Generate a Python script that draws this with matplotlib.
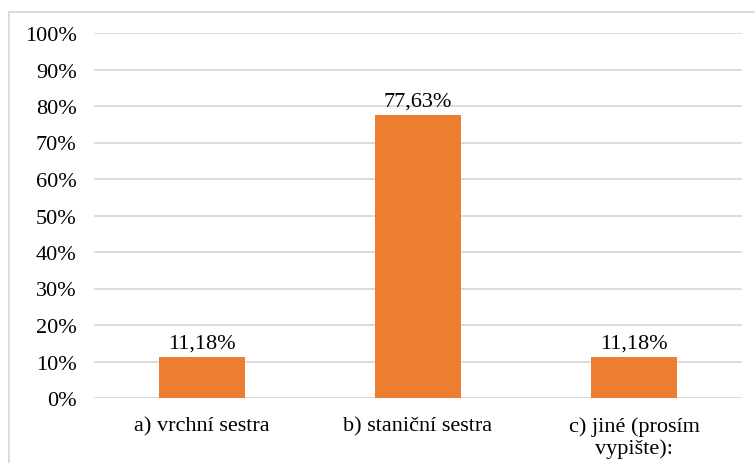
import matplotlib
matplotlib.use("Agg")
import matplotlib.pyplot as plt
from matplotlib.patches import Rectangle

categories = ["a) vrchní sestra", "b) staniční sestra", "c) jiné (prosím\nvypište):"]
values = [11.18, 77.63, 11.18]
value_labels = ["11,18%", "77,63%", "11,18%"]
yticks = [0, 10, 20, 30, 40, 50, 60, 70, 80, 90, 100]
ytick_labels = [f"{t}%" for t in yticks]

plt.rcParams['font.family'] = ['Liberation Serif', 'DejaVu Serif']

fig = plt.figure(figsize=(7.55, 4.64), dpi=100)
fig.patches.append(Rectangle((9/755, -0.1), 1.2, 1 - 13/464 + 0.1, transform=fig.transFigure,
                             fill=False, edgecolor='#D9D9D9', linewidth=1.3, zorder=0))
ax = fig.add_axes([94/755, 1 - 399/464, (742 - 94)/755, (399 - 34)/464])

x = range(len(categories))
bars = ax.bar(x, values, width=0.4, color='#ED7D31', zorder=3)
for xi, v, lab in zip(x, values, value_labels):
    ax.annotate(lab, (xi, v), xytext=(0, 3), textcoords='offset points',
                ha='center', va='bottom', fontsize=16, color='#000000')

ax.set_xlim(-0.5, 2.5)
ax.set_ylim(0, 100)
ax.set_yticks(yticks)
ax.set_yticklabels(ytick_labels, fontsize=16)
ax.set_xticks(list(x))
ax.set_xticklabels(categories, fontsize=16, linespacing=1.15)
ax.tick_params(axis='y', length=0, pad=12.5)
ax.tick_params(axis='x', length=0, pad=13)
ax.grid(axis='y', color='#D9D9D9', linewidth=1.3, zorder=0)
for s in ax.spines.values():
    s.set_visible(False)

fig.savefig("out.png", dpi=100)
